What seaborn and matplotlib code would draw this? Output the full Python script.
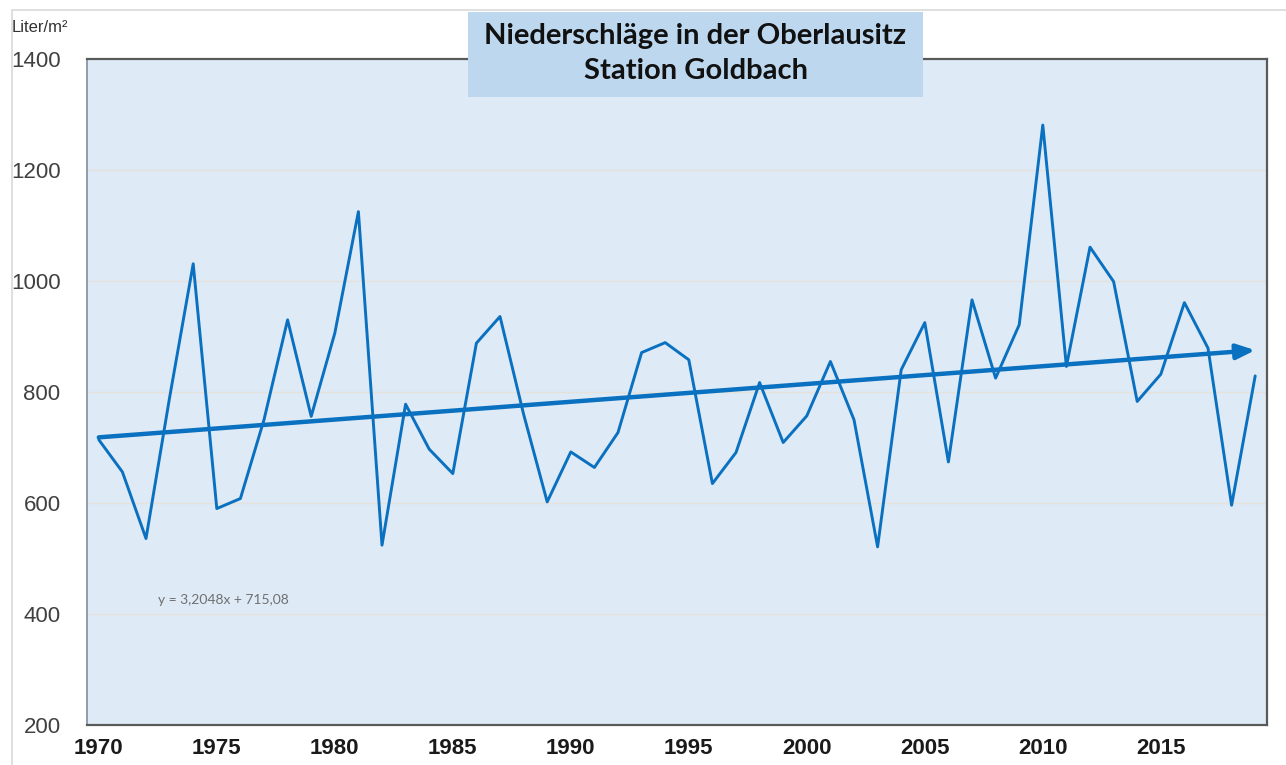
import numpy as np
import pandas as pd
import matplotlib
matplotlib.use("Agg")
import matplotlib.pyplot as plt
from matplotlib.patches import Rectangle
import seaborn as sns

years = list(range(1970, 2020))
precip = [714, 656, 536, 790, 1031, 590, 608, 750, 930, 756,
          906, 1125, 524, 778, 697, 653, 888, 936, 760, 602,
          692, 664, 727, 871, 889, 858, 635, 691, 817, 709,
          757, 855, 750, 521, 840, 925, 674, 966, 825, 921,
          1281, 846, 1061, 999, 783, 832, 961, 879, 596, 829]
trend_slope = 3.2048
trend_intercept = 715.08
trend_label = "y = 3,2048x + 715,08"
title_lines = ["Niederschläge in der Oberlausitz", "Station Goldbach"]
y_unit = "Liter/m²"
y_ticks = [200, 400, 600, 800, 1000, 1200, 1400]
x_ticks = [1970, 1975, 1980, 1985, 1990, 1995, 2000, 2005, 2010, 2015]

sns.set_style("white")
plt.rcParams["font.family"] = ["Liberation Sans", "DejaVu Sans"]

W, H = 1286, 765
fig = plt.figure(figsize=(W / 100, H / 100), dpi=100)
ax = fig.add_axes([87 / W, 1 - 725 / H, (1267 - 87) / W, (725 - 59) / H])
ax.set_facecolor("#DEEAF6")

blue = "#0A70C0"
df = pd.DataFrame({"x": np.array(years) + 0.5, "y": precip})
sns.lineplot(data=df, x="x", y="y", ax=ax, color=blue, lw=2.1, zorder=3)

# trend line with arrow head
idx = np.arange(1, len(years) + 1)
tr = trend_intercept + trend_slope * idx
x0, x1 = years[0] + 0.5, years[-1] + 0.5
ax.annotate("", xy=(x1, tr[-1]), xytext=(x0, tr[0]),
            arrowprops=dict(arrowstyle="-|>,head_length=1.1,head_width=0.45",
                            color=blue, lw=3.2, shrinkA=0, shrinkB=0),
            annotation_clip=False, zorder=4)

ax.set_xlim(1970, 2020)
ax.set_ylim(200, 1400)

# grid
for v in y_ticks[1:-1]:
    ax.axhline(v, color="#E5E2DC", lw=1.0, zorder=1)

ax.set_yticks(y_ticks)
ax.set_yticklabels([str(v) for v in y_ticks], fontsize=16, color="#404040")
ax.tick_params(axis="y", direction="out", length=5, width=1.2, color="#9DC3E6", pad=14)

ax.set_xticks(x_ticks)
ax.set_xticklabels([])
ax.set_xticks([t + 0.5 for t in x_ticks], minor=True)
ax.set_xticklabels([str(t) for t in x_ticks], minor=True, fontsize=16,
                   fontweight="bold", color="#1a1a1a")
ax.tick_params(axis="x", which="major", direction="inout", length=14, width=1.3,
               color="#404040")
ax.tick_params(axis="x", which="minor", length=0, pad=9)

for s in ax.spines.values():
    s.set_color("#595959")
    s.set_linewidth(1.6)
ax.spines["left"].set_color("#7F8FA0")
ax.spines["left"].set_linewidth(1.2)

ax.set_xlabel("")
ax.set_ylabel("")

ax.text(1973.0, 425, trend_label, fontsize=10, color="#707070",
        family=["Lato", "DejaVu Sans"], va="center", ha="left")

# outer chart border
fig.patches.append(Rectangle((12 / W, -0.01), 1.02, 1 - 10 / H + 0.01,
                             transform=fig.transFigure, fill=False,
                             edgecolor="#D9D9D9", lw=1.2, zorder=0))

# title box
fig.patches.append(Rectangle((468 / W, 1 - 97 / H), (923 - 468) / W, (97 - 12) / H,
                             transform=fig.transFigure, facecolor="#BDD7EE",
                             edgecolor="none", zorder=5))
fig.text((468 + 923) / 2 / W, 1 - 36 / H, title_lines[0], ha="center", va="center",
         fontsize=21, fontweight="bold", family=["Lato", "DejaVu Sans"],
         color="#111111", zorder=6)
fig.text((468 + 923) / 2 / W, 1 - 71 / H, title_lines[1], ha="center", va="center",
         fontsize=21, fontweight="bold", family=["Lato", "DejaVu Sans"],
         color="#111111", zorder=6)

fig.text(12 / W, 1 - 27 / H, y_unit, ha="left", va="center", fontsize=12,
         color="#333333")

fig.savefig("out.png", dpi=100)
